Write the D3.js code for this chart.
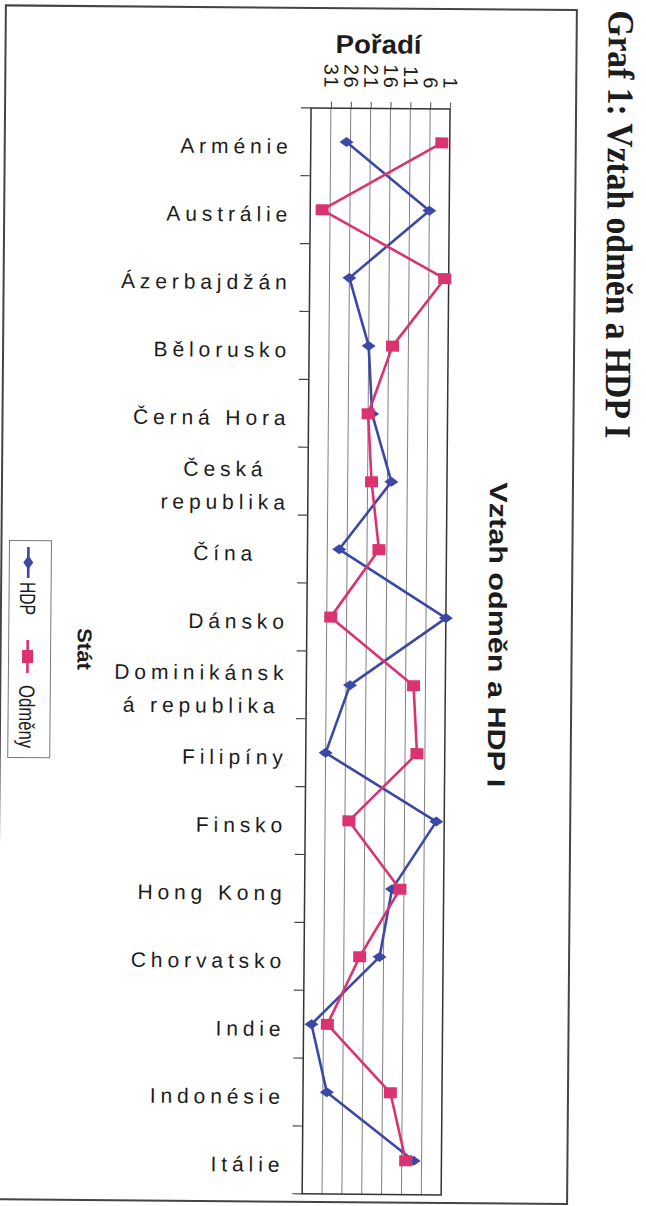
<!DOCTYPE html>
<html>
<head>
<meta charset="utf-8">
<script src="https://cdn.jsdelivr.net/npm/d3@7/dist/d3.min.js"></script>
<style>
  body { margin: 0; background: #fff; }
  svg { display: block; }
  text { font-family: "Liberation Sans", Arial, sans-serif; fill: #1c1c1c; }
</style>
</head>
<body>
<div id="root"></div>
<script>
// Data (ranks, 1 = best)
const countries = ['Arménie', 'Austrálie', 'Ázerbajdžán', 'Bělorusko', 'Černá Hora', 'Česká republika',
  'Čína', 'Dánsko', 'Dominikánská republika', 'Filipíny', 'Finsko', 'Hong Kong', 'Chorvatsko',
  'Indie', 'Indonésie', 'Itálie'];
const labelLines = [['Arménie'], ['Austrálie'], ['Ázerbajdžán'], ['Bělorusko'], ['Černá Hora'],
  ['Česká', 'republika'], ['Čína\u00a0\u00a0\u00a0'], ['Dánsko'], ['Dominikánsk', 'á republika'],
  ['Filipíny'], ['Finsko'], ['Hong Kong'], ['Chorvatsko'], ['Indie'], ['Indonésie'], ['Itálie']];
const hdp    = [27, 6, 26, 21, 20, 15, 28, 1, 25, 31, 3, 14, 17, 34, 30, 8];
const odmeny = [3, 33, 2, 15, 21, 20, 18, 30, 9, 8, 25, 12, 22, 30, 14, 10];
const rankTicks = [1, 6, 11, 16, 21, 26, 31];

const width = 646, height = 1206;
const plot = { left: 307, right: 446, top: 108, bottom: 1194 };
const blue = '#3b48a6', pink = '#db3370';

const svg = d3.select('#root').append('svg')
  .attr('width', width)
  .attr('height', height);

// the scan is slightly tilted
const g = svg.append('g').attr('transform', 'rotate(0.47,323,603)');

// outer frame
g.append('rect')
  .attr('x', 1).attr('y', 8)
  .attr('width', 571).attr('height', 1194)
  .attr('fill', 'none').attr('stroke', '#444').attr('stroke-width', 2);

// Scales
const x = d3.scaleLinear().domain([36, 1]).range([plot.left, plot.right]);
const y = d3.scaleBand().domain(countries).range([plot.top, plot.bottom]);
const cy = c => y(c) + y.bandwidth() / 2;

// gridlines
g.append('g')
  .selectAll('line')
  .data(rankTicks.slice(1))
  .join('line')
  .attr('x1', d => x(d)).attr('x2', d => x(d))
  .attr('y1', plot.top).attr('y2', plot.bottom)
  .attr('stroke', '#808080').attr('stroke-width', 1);

// plot frame
g.append('rect')
  .attr('x', plot.left).attr('y', plot.top)
  .attr('width', plot.right - plot.left).attr('height', plot.bottom - plot.top)
  .attr('fill', 'none').attr('stroke', '#333').attr('stroke-width', 1.5);

// value axis (top), labels rotated
const xAxis = d3.axisTop(x).tickValues(rankTicks).tickSize(6.5).tickSizeOuter(0);
const xg = g.append('g')
  .attr('transform', `translate(0,${plot.top})`)
  .call(xAxis);
xg.select('.domain').remove();
xg.selectAll('.tick line').attr('stroke', '#555');
xg.selectAll('.tick text')
  .attr('y', null)
  .attr('dy', '0.36em')
  .attr('transform', 'translate(0,-19) rotate(90)')
  .attr('text-anchor', 'end')
  .style('font-size', '20px')
  .style('letter-spacing', '1.5px')
  .attr('fill', '#1c1c1c');

// category axis ticks at band boundaries
const bounds = d3.range(countries.length + 1).map(i => plot.top + i * y.step());
g.append('g')
  .selectAll('line')
  .data(bounds)
  .join('line')
  .attr('x1', plot.left - 10).attr('x2', plot.left)
  .attr('y1', d => d).attr('y2', d => d)
  .attr('stroke', '#444').attr('stroke-width', 1.2);

// category labels
const lab = g.append('g')
  .selectAll('text')
  .data(countries)
  .join('text')
  .style('font-size', '21px')
  .style('letter-spacing', '4.9px');
lab.each(function (c, i) {
  const lines = labelLines[i];
  const t = d3.select(this);
  const lh = 33;
  const base = cy(c) + 12 - (lines.length - 1) * lh / 2;
  lines.forEach((s, j) => {
    t.append('tspan')
      .attr('x', 289)
      .attr('y', base + j * lh)
      .attr('text-anchor', 'end')
      .text(s);
  });
});
// centre multi-line labels within their right-aligned block
lab.each(function () {
  const spans = d3.select(this).selectAll('tspan').nodes();
  if (spans.length < 2) return;
  const maxW = d3.max(spans, n => n.getComputedTextLength());
  spans.forEach(n => {
    d3.select(n).attr('text-anchor', 'middle').attr('x', 289 - maxW / 2);
  });
});

// series
const series = [
  { name: 'HDP', values: hdp, color: blue, marker: 'diamond' },
  { name: 'Odměny', values: odmeny, color: pink, marker: 'square' }
];
const line = d3.line()
  .x(d => x(d.v))
  .y(d => cy(d.c));

const diamond = 'M-7,0L0,-5L7,0L0,5Z';
const square = 'M-6.5,-5.5H6.5V5.5H-6.5Z';

series.forEach(s => {
  const pts = countries.map((c, i) => ({ c, v: s.values[i] }));
  g.append('path')
    .datum(pts)
    .attr('d', line)
    .attr('fill', 'none')
    .attr('stroke', s.color)
    .attr('stroke-width', 2.6)
    .attr('stroke-linejoin', 'round');
  g.append('g')
    .selectAll('path')
    .data(pts)
    .join('path')
    .attr('transform', d => `translate(${x(d.v)},${cy(d.c)})`)
    .attr('d', s.marker === 'diamond' ? diamond : square)
    .attr('fill', s.color);
});

// axis titles
g.append('text')
  .attr('x', 374).attr('y', 53)
  .attr('text-anchor', 'middle')
  .style('font-size', '26px').style('font-weight', 'bold')
  .attr('textLength', 86).attr('lengthAdjust', 'spacingAndGlyphs')
  .text('Pořadí');

g.append('text')
  .attr('transform', 'translate(78,630) rotate(90)')
  .style('font-size', '20px').style('font-weight', 'bold')
  .attr('textLength', 42).attr('lengthAdjust', 'spacingAndGlyphs')
  .text('Stát');

// chart title
g.append('text')
  .attr('transform', 'translate(489,481) rotate(90)')
  .style('font-size', '25px').style('font-weight', 'bold')
  .attr('textLength', 305).attr('lengthAdjust', 'spacingAndGlyphs')
  .text('Vztah odměn a HDP I');

// figure caption
g.append('text')
  .attr('transform', 'translate(604,8) rotate(90)')
  .style('font-family', '"Liberation Serif", "Times New Roman", serif')
  .style('font-size', '37px').style('font-weight', 'bold')
  .attr('textLength', 428).attr('lengthAdjust', 'spacingAndGlyphs')
  .text('Graf  1: Vztah odměn a HDP I');

// legend
const leg = g.append('g');
leg.append('rect')
  .attr('x', 9).attr('y', 543)
  .attr('width', 42).attr('height', 217)
  .attr('fill', '#fff').attr('stroke', '#777').attr('stroke-width', 1);
const legItems = [
  { s: series[0], y0: 549.5, y1: 580.5, ty: 584.5, len: 33 },
  { s: series[1], y0: 642.5, y1: 675.5, ty: 687.5, len: 63 }
];
legItems.forEach(it => {
  leg.append('line')
    .attr('x1', 28).attr('x2', 28)
    .attr('y1', it.y0).attr('y2', it.y1)
    .attr('stroke', it.s.color).attr('stroke-width', 2.6);
  leg.append('path')
    .attr('transform', `translate(28,${(it.y0 + it.y1) / 2}) rotate(90)`)
    .attr('d', it.s.marker === 'diamond' ? diamond : square)
    .attr('fill', it.s.color);
  leg.append('text')
    .attr('transform', `translate(20,${it.ty}) rotate(90)`)
    .style('font-size', '22px')
    .attr('textLength', it.len).attr('lengthAdjust', 'spacingAndGlyphs')
    .text(it.s.name);
});
</script>
</body>
</html>
